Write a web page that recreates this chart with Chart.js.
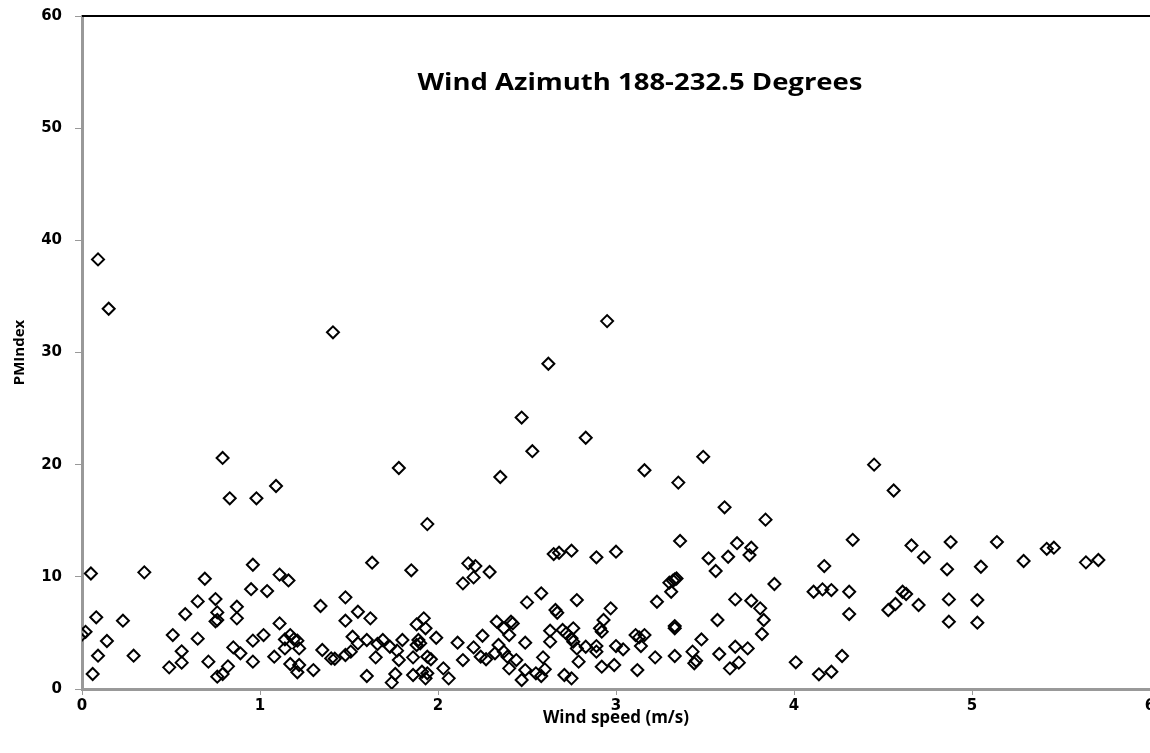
<!DOCTYPE html>
<html>
<head>
<meta charset="utf-8">
<script src="https://cdn.jsdelivr.net/npm/chart.js@4"></script>
<style>
  html, body { margin: 0; padding: 0; background: #fff; overflow: hidden; }
  #wrap { width: 1165px; height: 753px; position: relative; }
</style>
</head>
<body>
<div id="wrap"><canvas id="windChart"></canvas></div>
<script>
// wind speed (m/s) and PM index
const windSpeed = [
  0.05, 0.35, 0.69, 0.96, 1.11, 1.16, 0.95, 1.04, 0.75, 0.65, 0.58, 0.76, 0.75, 0.76, 0.87, 0.87,
  0.08, 0.23, 0.00, 0.02, 0.14, 0.09, 0.06, 0.29, 0.51, 0.49, 0.56, 0.56, 0.65, 0.71, 0.76, 0.79,
  0.82, 0.85, 0.89, 0.96, 1.02, 0.96, 1.11, 1.08, 1.14, 1.17, 1.19, 1.21, 1.14, 1.22, 1.17, 1.21,
  1.22, 1.30, 1.34, 1.35, 1.40, 1.42, 1.48, 1.48, 1.48, 1.51, 1.52, 1.55,
  1.63, 1.85, 1.62, 1.60, 1.55, 1.65, 1.60, 1.66, 1.69, 1.73, 1.77, 1.80, 1.78, 1.76, 1.74, 1.86,
  1.86, 1.88, 1.92, 1.93, 1.89, 1.90, 1.88, 1.99, 1.94, 1.96, 1.91, 1.94, 1.93, 2.03, 2.06, 2.11,
  2.14, 2.20, 2.25, 2.24, 2.27, 2.14, 2.17, 2.21, 2.20, 2.29, 2.33, 2.37, 2.41, 2.42, 2.40, 2.34,
  2.32, 2.37, 2.39, 2.40, 2.44, 2.47, 2.49, 2.49, 2.50, 2.58, 2.59, 2.63, 2.63, 2.55, 2.58, 2.60,
  2.65, 2.68, 2.75, 2.89, 3.00, 2.66, 2.67, 2.78, 2.70, 2.72, 2.76, 2.75, 2.76, 2.78, 2.83, 2.79,
  2.71, 2.75, 2.89, 2.89, 2.92, 2.99, 2.91, 2.93, 2.97, 2.92, 3.00, 3.04, 3.11, 3.12,
  3.75, 3.52, 3.63, 3.56, 3.33, 3.30, 3.34, 3.32, 3.31, 3.23, 3.89, 3.67, 3.76, 3.81, 3.83, 3.82,
  3.57, 3.33, 3.33, 3.13, 3.16, 3.14, 3.22, 3.33, 3.43, 3.45, 3.44, 3.48, 3.58, 3.67, 3.74, 3.69,
  3.64, 4.01, 4.14, 4.21, 4.27, 4.17, 4.11, 4.16, 4.21, 4.31, 4.31, 4.53, 4.57, 4.61, 4.63, 4.70,
  4.73, 4.86, 5.05, 5.29, 5.64, 5.71, 4.87, 5.03, 4.87, 5.03,
  0.09, 0.15, 1.41, 0.79, 0.83, 0.98, 1.09, 1.78, 1.94, 2.95, 2.62, 2.47, 2.53, 2.83, 2.35, 3.16,
  3.35, 3.49, 3.61, 3.84, 3.36, 3.68, 3.76, 4.45, 4.56, 4.33, 4.66, 4.88, 5.14, 5.42, 5.46
];
const pmIndex = [
  10.3, 10.4, 9.83, 11.08, 10.2, 9.68, 8.9, 8.73, 8.02, 7.81, 6.68, 6.83, 6.03, 6.15, 7.34, 6.30,
  6.39, 6.09, 4.85, 5.1, 4.28, 2.97, 1.34, 2.97, 4.81, 1.93, 3.36, 2.35, 4.49, 2.44, 1.10, 1.34,
  2.02, 3.71, 3.18, 4.31, 4.81, 2.44, 5.85, 2.88, 4.42, 4.81, 4.45, 4.31, 3.62, 3.62, 2.23, 1.49,
  2.14, 1.69, 7.40, 3.48, 2.73, 2.70, 8.17, 6.09, 3.03, 3.33, 4.66, 6.89,
  11.26, 10.58, 6.30, 4.37, 4.07, 2.82, 1.16, 4.01, 4.37, 3.77, 3.42, 4.37, 2.58, 1.34, 0.57, 2.82,
  1.25, 5.76, 6.30, 5.41, 4.37, 4.07, 3.92, 4.57, 2.88, 2.65, 1.54, 1.40, 0.95, 1.84, 0.95, 4.13,
  2.58, 3.71, 4.75, 2.88, 2.65, 9.42, 11.2, 10.96, 9.95, 10.43, 6.00, 5.41, 6.00, 5.85, 4.81, 3.92,
  3.18, 3.33, 2.88, 1.84, 2.58, 0.80, 1.69, 4.13, 7.72, 8.53, 2.82, 5.20, 4.22, 1.40, 1.16, 1.75,
  12.03, 12.15, 12.33, 11.74, 12.24, 7.04, 6.80, 7.93, 5.26, 4.96, 5.41, 4.52, 4.22, 3.62, 3.77, 2.44,
  1.25, 0.95, 3.83, 3.33, 1.99, 2.14, 5.41, 6.15, 7.19, 5.11, 3.83, 3.54, 4.81, 1.69,
  11.94, 11.65, 11.79, 10.52, 9.78, 9.48, 9.85, 9.66, 8.67, 7.78, 9.36, 7.99, 7.87, 7.19, 6.15, 4.90,
  6.15, 5.61, 5.41, 4.60, 4.81, 3.83, 2.82, 2.94, 3.33, 2.52, 2.29, 4.42, 3.12, 3.77, 3.62, 2.35,
  1.84, 2.38, 1.31, 1.54, 2.94, 10.96, 8.67, 8.88, 8.82, 8.67, 6.68, 7.04, 7.58, 8.67, 8.47, 7.49,
  11.74, 10.67, 10.90, 11.41, 11.29, 11.5, 7.99, 7.93, 6.00, 5.91,
  38.3, 33.9, 31.8, 20.6, 17.0, 17.0, 18.1, 19.7, 14.7, 32.8, 29.0, 24.2, 21.2, 22.4, 18.9, 19.5,
  18.4, 20.7, 16.2, 15.1, 13.2, 13.0, 12.6, 20.0, 17.7, 13.3, 12.8, 13.1, 13.1, 12.5, 12.6
];
const xTicks = [0, 1, 2, 3, 4, 5, 6];
const yTicks = [0, 10, 20, 30, 40, 50, 60];

const chartTitle = 'Wind Azimuth 188-232.5 Degrees';

// title sits inside the plot area, plus the black top edge of the plot frame
const insideTitle = {
  id: 'insideTitle',
  afterDraw(chart) {
    const { ctx, chartArea } = chart;
    ctx.save();
    ctx.strokeStyle = '#000';
    ctx.lineWidth = 2;
    ctx.beginPath();
    ctx.moveTo(chartArea.left, chartArea.top);
    ctx.lineTo(chartArea.right + 20, chartArea.top);
    ctx.stroke();
    ctx.font = 'bold 24px "Open Sans"';
    ctx.fillStyle = '#000';
    ctx.textAlign = 'center';
    ctx.textBaseline = 'middle';
    // the original title runs a bit wider than Open Sans, stretch it to ~445px
    const w = ctx.measureText(chartTitle).width;
    ctx.translate(640, 83);
    ctx.scale(445 / w, 1);
    ctx.fillText(chartTitle, 0, 0);
    ctx.restore();
  }
};

const tickFont = { family: 'DejaVu Sans', weight: 'bold', size: 15 };
const axisTitleFont = { family: 'Open Sans', weight: 'bold', size: 15 };

const ctx = document.getElementById('windChart').getContext('2d');
new Chart(ctx, {
  type: 'scatter',
  data: {
    datasets: [{
      label: 'PMIndex',
      data: windSpeed.map((w, i) => ({ x: w, y: pmIndex[i] })),
      pointStyle: 'rectRot',
      pointRadius: 6,
      pointHoverRadius: 6,
      borderWidth: 2,
      borderColor: '#000',
      backgroundColor: 'rgba(255,255,255,0)'
    }]
  },
  plugins: [insideTitle],
  options: {
    responsive: true,
    maintainAspectRatio: false,
    animation: false,
    layout: { padding: { top: 16, right: 15, bottom: 25, left: 7 } },
    plugins: {
      legend: { display: false },
      title: { display: false },
      tooltip: { enabled: false }
    },
    scales: {
      x: {
        type: 'linear',
        min: 0,
        max: 6,
        afterBuildTicks: (s) => { s.ticks = xTicks.map(v => ({ value: v })); },
        grid: { drawOnChartArea: false, drawTicks: true, tickLength: 6, color: '#999', lineWidth: 1 },
        border: { display: true, color: '#999', width: 3 },
        ticks: { color: '#000', font: tickFont, padding: 2 },
        title: { display: true, text: 'Wind speed (m/s)', color: '#000', font: { family: 'Open Sans', weight: 'bold', size: 17 }, padding: { top: 0, bottom: 0 } },
        afterFit: (s) => { s.height = 39; }
      },
      y: {
        type: 'linear',
        min: 0,
        max: 60,
        afterBuildTicks: (s) => { s.ticks = yTicks.map(v => ({ value: v })); },
        grid: { drawOnChartArea: false, drawTicks: true, tickLength: 7, color: '#999', lineWidth: 1 },
        border: { display: true, color: '#999', width: 3 },
        ticks: { color: '#000', font: tickFont, padding: 13 },
        title: { display: true, text: 'PMIndex', color: '#000', font: axisTitleFont, padding: { bottom: 2 } },
        afterFit: (s) => {
          s.width = 75;
          // keep the tick padding from pushing the plot top down
          s.paddingTop = 8;
          s.paddingBottom = 8;
        }
      }
    }
  }
});
</script>
</body>
</html>
